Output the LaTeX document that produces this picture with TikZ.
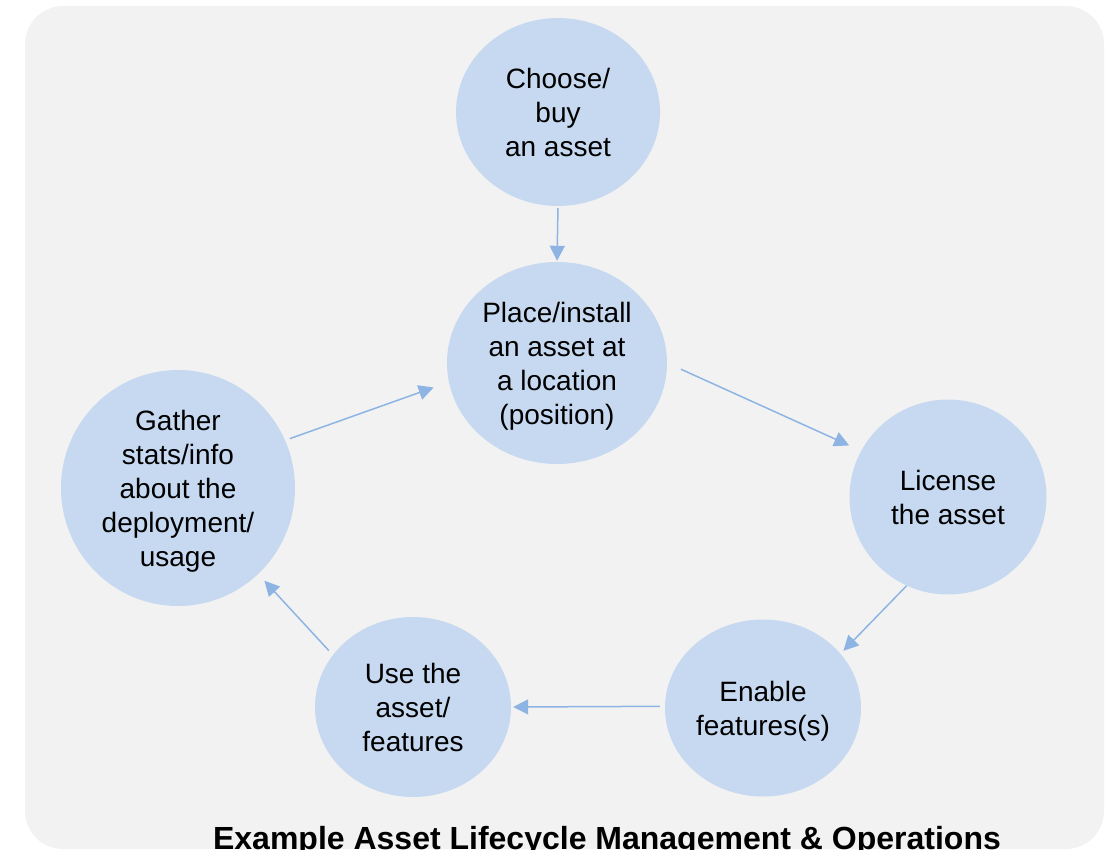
\documentclass[tikz,border=0pt]{standalone}
\usepackage{fontspec}
\setmainfont{Liberation Sans}
\usetikzlibrary{shapes.geometric,arrows.meta}
\definecolor{stagefill}{HTML}{C6D9F0}
\definecolor{flowcol}{HTML}{8EB4E3}
\definecolor{panel}{HTML}{F2F2F2}
\begin{document}
\begin{tikzpicture}[x=1pt,y=-1pt,
  stage/.style={ellipse, fill=stagefill, inner sep=0pt, align=center,
    font=\fontsize{28}{34}\selectfont},
  flow/.style={draw=flowcol, line width=1.5pt, -{Triangle[length=15pt,width=15pt]}}]
\useasboundingbox (0,0) rectangle (1113,849);
\fill[panel, rounded corners=38pt] (25,6) rectangle (1104,849);
% stages
\node[stage, minimum width=204pt, minimum height=188pt] (choose) at (558,112) {Choose/\\buy\\an asset};
\node[stage, minimum width=220pt, minimum height=202pt] (place) at (557,363) {Place/install\\an asset at\\a location\\\smash{(position)}};
\node[stage, minimum width=197pt, minimum height=195pt] (license) at (948,497) {License\\the asset};
\node[stage, minimum width=196pt, minimum height=177pt] (enable) at (763,708) {Enable\\\smash{features(s)}};
\node[stage, minimum width=196pt, minimum height=180pt] (use) at (413,707) {Use the\\asset/\\features};
\node[stage, minimum width=234pt, minimum height=236pt] (gather) at (178,488) {Gather\\stats/info\\about the\\deployment/\\\smash{usage}};
% flow
\draw[flow, shorten <=2pt, shorten >=1pt] (choose.south) -- (place.north);
\draw[flow, shorten <=15pt, shorten >=13pt] (place.0) -- (license.152);
\draw[flow, shorten >=4pt] (license.245) -- (enable.35);
\draw[flow, shorten <=5pt, shorten >=2pt] (enable.179) -- (use.east);
\draw[flow, shorten <=6pt, shorten >=9pt] (use.147) -- (gather.313);
\draw[flow, shorten <=5pt, shorten >=16pt] (gather.24) -- (place.190);
\node[anchor=base, font=\fontsize{32}{38}\selectfont\bfseries] (title) at (607,849) {Example Asset Lifecycle Management \& Operations};
\end{tikzpicture}
\end{document}
